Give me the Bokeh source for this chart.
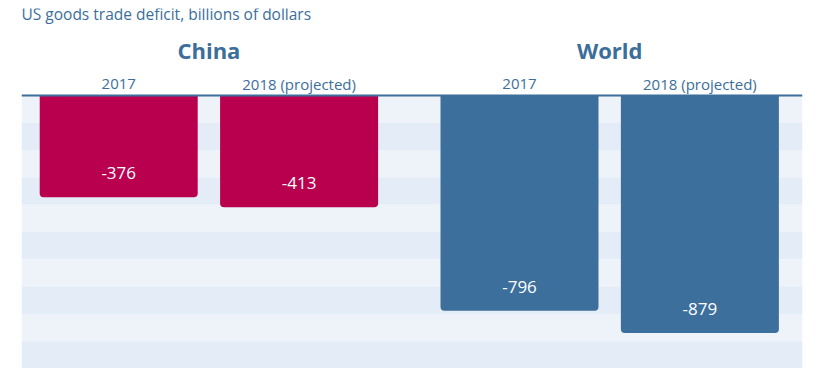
from bokeh.plotting import figure
from bokeh.models import Range1d, BoxAnnotation, Span, ColumnDataSource
from bokeh.core.properties import value
from bokeh.embed import file_html
from bokeh.resources import INLINE

# ---- data ----
title_text = "US goods trade deficit, billions of dollars"
groups = ["China", "World"]
periods = ["2017", "2018 (projected)"]
china_values = [-376, -413]
world_values = [-796, -879]
group_colors = ["#b9004e", "#3c6f9c"]

# ---- layout constants ----
GROUP_GAP = 0.222
BAR_W = 0.876
X_START, X_END = -0.539, 3.791
Y_MIN, Y_MAX = -1010, 322
N_BANDS = 10
TXT = "#3b6e9b"
FONT = "Open Sans"
SHIFT = -6

all_values = [china_values, world_values]
xs, tops, bottoms, colors, labels, sub = [], [], [], [], [], []
for g, (grp, vals) in enumerate(zip(groups, all_values)):
    for b, (per, v) in enumerate(zip(periods, vals)):
        xs.append(g * (2 + GROUP_GAP) + b)
        bottoms.append(v)
        tops.append(0)
        colors.append(group_colors[g])
        labels.append(str(v))
        sub.append(per)

src = ColumnDataSource(dict(x=xs, top=tops, bottom=bottoms, color=colors,
                            label=labels, sub=sub, zero=[0] * len(xs)))

p = figure(width=818, height=368, output_backend="svg", toolbar_location=None,
           x_range=Range1d(X_START, X_END), y_range=Range1d(Y_MIN, Y_MAX),
           x_axis_location=None, y_axis_location=None,
           min_border_left=21, min_border_right=16, min_border_top=8, min_border_bottom=0)
p.outline_line_color = None
p.grid.visible = False
p.background_fill_color = "white"
p.border_fill_color = "white"

# bands
step = (0 - Y_MIN) / N_BANDS
for i in range(N_BANDS):
    top = -i * step
    p.add_layout(BoxAnnotation(top=top, bottom=top - step,
                               fill_color="#eef3fa" if i % 2 == 0 else "#e4ecf7",
                               fill_alpha=1, line_alpha=0, level="underlay"))

p.vbar(x="x", top="top", bottom="bottom", width=BAR_W, color="color", source=src,
       line_color=None, border_radius=(0, 0, 4, 4))

p.add_layout(Span(location=0, dimension="width", line_color="#3c6f9c", line_width=2))

# value labels
p.text(x="x", y="bottom", text="label", source=src, text_color="white",
       text_font=value(FONT), text_font_size="17px", text_align="center",
       text_baseline="alphabetic", y_offset=-18 + SHIFT)

# period labels
p.text(x="x", y="zero", text="sub", source=src, text_color=TXT,
       text_font=value(FONT), text_font_size="15px", text_align="center",
       text_baseline="alphabetic", y_offset=-6 + SHIFT)

# group headers
gx = [g * (2 + GROUP_GAP) + 0.5 for g in range(len(groups))]
p.text(x=gx, y=[0] * len(gx), text=groups, text_color=TXT,
       text_font=value(FONT), text_font_size="22px", text_font_style="bold",
       text_align="center", text_baseline="alphabetic", y_offset=-40 + SHIFT)

# title
p.text(x=[X_START], y=[0], text=[title_text], text_color=TXT,
       text_font=value(FONT), text_font_size="15.5px", text_align="left",
       text_baseline="alphabetic", y_offset=-76 + SHIFT)

open("out.html", "w").write(file_html(p, INLINE))
